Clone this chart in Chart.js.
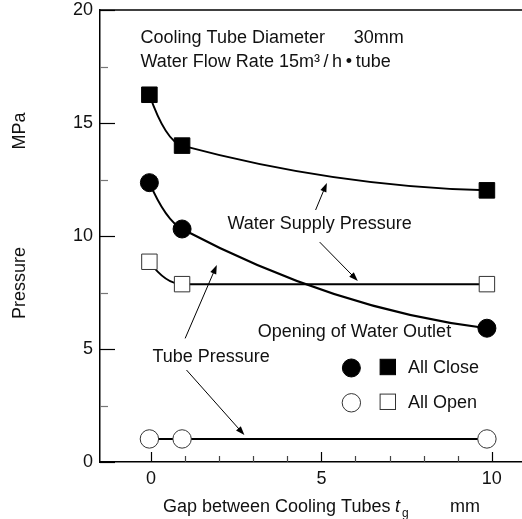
<!DOCTYPE html>
<html>
<head>
<meta charset="utf-8">
<script src="https://cdn.jsdelivr.net/npm/chart.js@4/dist/chart.umd.min.js"></script>
<style>
  html, body { margin: 0; padding: 0; background: #fff; }
  #wrap { width: 522px; height: 519px; position: relative; }
</style>
</head>
<body>
<div id="wrap"><canvas id="pressureChart"></canvas></div>
<script>
// ---- data ----
const gapValues = [-0.05, 0.91, 9.86];          // gap between cooling tubes, mm
const supplyClose = [16.25, 14.0, 12.02];       // water supply pressure, all close
const tubeClose = [12.36, 10.31, 5.92];         // tube pressure, all close
const supplyOpen = [8.86, 7.87, 7.87];          // water supply pressure, all open
const tubeOpen = [1.02, 1.02, 1.02];            // tube pressure, all open

const xTickValues = [0, 1, 2, 3, 4, 5, 6, 7, 8, 9, 10];
const xTickLabels = [0, 5, 10];
const yTickValues = [0, 2.5, 5, 7.5, 10, 12.5, 15, 17.5, 20];
const yTickLabels = [0, 5, 10, 15, 20];

const FONT = '"Liberation Sans", Arial, Helvetica, sans-serif';

const toPoints = (ys) => gapValues.map((x, i) => ({ x: x, y: ys[i] }));

// ---- annotations, in data units ----
const notes = [
  { text: "Cooling Tube Diameter", x: -0.31, y: 18.76 },
  { text: "30mm", x: 5.95, y: 18.76 },
  { text: "Water Flow Rate 15m³\u2009/\u2009h\u2009•\u2009tube", x: -0.31, y: 17.7 },
  { text: "Water Supply Pressure", x: 2.24, y: 10.53 },
  { text: "Tube Pressure", x: 0.04, y: 4.65 },
  { text: "Opening of Water Outlet", x: 3.13, y: 5.75 },
];
const arrows = [
  { from: [4.83, 11.15], to: [5.16, 12.35] },
  { from: [4.95, 9.73], to: [6.07, 8.01] },
  { from: [1.0, 5.47], to: [1.93, 8.72] },
  { from: [1.04, 4.07], to: [2.74, 1.19] },
];
const keyRows = [
  { label: "All Close", filled: true, y: 4.16 },
  { label: "All Open", filled: false, y: 2.62 },
];

function drawArrow(ctx, x1, y1, x2, y2) {
  const a = Math.atan2(y2 - y1, x2 - x1);
  const len = 9, half = 3.2;
  ctx.beginPath();
  ctx.moveTo(x1, y1);
  ctx.lineTo(x2 - Math.cos(a) * len * 0.8, y2 - Math.sin(a) * len * 0.8);
  ctx.stroke();
  ctx.beginPath();
  ctx.moveTo(x2, y2);
  ctx.lineTo(x2 - Math.cos(a) * len - Math.sin(a) * half, y2 - Math.sin(a) * len + Math.cos(a) * half);
  ctx.lineTo(x2 - Math.cos(a) * len + Math.sin(a) * half, y2 - Math.sin(a) * len - Math.cos(a) * half);
  ctx.closePath();
  ctx.fill();
}

function circleMark(ctx, x, y, filled) {
  ctx.beginPath();
  ctx.arc(x, y, filled ? 9 : 9.2, 0, Math.PI * 2);
  ctx.fillStyle = filled ? "#000" : "#fff";
  ctx.fill();
  ctx.lineWidth = 1;
  ctx.strokeStyle = filled ? "#000" : "#333";
  ctx.stroke();
}

function squareMark(ctx, x, y, filled) {
  ctx.fillStyle = filled ? "#000" : "#fff";
  ctx.fillRect(x - 7.7, y - 7.7, 15.4, 15.4);
  ctx.lineWidth = 1;
  ctx.strokeStyle = filled ? "#000" : "#333";
  ctx.strokeRect(x - 7.7, y - 7.7, 15.4, 15.4);
}

// smoother curve shape: harmonic-mean tangents inside, quadratic end tangents
const curvePlugin = {
  id: "smoothCurves",
  beforeDatasetDraw(chart, args) {
    const meta = args.meta;
    const line = meta.dataset;
    if (!line || !line.options.tension || typeof line.updateControlPoints !== "function") return;
    line.updateControlPoints(chart.chartArea);
    const pts = meta.data;
    const n = pts.length;
    if (n < 3) return;
    const sec = [];
    for (let i = 0; i < n - 1; i++) sec.push((pts[i + 1].y - pts[i].y) / (pts[i + 1].x - pts[i].x));
    const m = new Array(n).fill(0);
    for (let i = 1; i < n - 1; i++) {
      const a = sec[i - 1], b = sec[i];
      m[i] = a * b > 0 ? 2 / (1 / a + 1 / b) : 0;
    }
    m[0] = 2 * sec[0] - m[1];
    if (m[0] * sec[0] < 0) m[0] = 0;
    m[n - 1] = 2 * sec[n - 2] - m[n - 2];
    if (m[n - 1] * sec[n - 2] < 0) m[n - 1] = 0;
    for (let i = 0; i < n - 1; i++) {
      const h = (pts[i + 1].x - pts[i].x) / 3;
      pts[i].cp2x = pts[i].x + h;
      pts[i].cp2y = pts[i].y + m[i] * h;
      pts[i + 1].cp1x = pts[i + 1].x - h;
      pts[i + 1].cp1y = pts[i + 1].y - m[i + 1] * h;
    }
    line._path = undefined;
  },
};

// axes frame, inward ticks and titles
const framePlugin = {
  id: "frame",
  beforeDatasetsDraw(chart) {
    const { ctx, chartArea: a, scales } = chart;
    ctx.save();
    ctx.strokeStyle = "#000";
    ctx.lineWidth = 1.5;
    ctx.beginPath();
    ctx.moveTo(a.left, a.top);
    ctx.lineTo(a.right, a.top);
    ctx.stroke();

    scales.y.ticks.forEach((t) => {
      const py = Math.round(scales.y.getPixelForValue(t.value)) + 0.5;
      const major = yTickLabels.includes(t.value);
      ctx.strokeStyle = major ? "#000" : "#777";
      ctx.lineWidth = 1.2;
      ctx.beginPath();
      ctx.moveTo(a.left, py);
      ctx.lineTo(a.left + (major ? 15 : 8), py);
      ctx.stroke();
    });
    scales.x.ticks.forEach((t) => {
      const px = Math.round(scales.x.getPixelForValue(t.value)) + 0.5;
      const major = xTickLabels.includes(t.value);
      ctx.strokeStyle = major ? "#000" : "#444";
      ctx.lineWidth = 1.2;
      ctx.beginPath();
      ctx.moveTo(px, a.bottom);
      ctx.lineTo(px, a.bottom - (major ? 10 : 6));
      ctx.stroke();
    });

    // axis titles
    ctx.fillStyle = "#111";
    ctx.font = "18px " + FONT;
    ctx.textBaseline = "middle";
    ctx.textAlign = "left";
    ctx.fillText("Gap between Cooling Tubes", 163, 507);
    ctx.fillText("mm", 450, 507);
    ctx.font = "italic 18px " + FONT;
    ctx.fillText("t", 395, 507);
    ctx.font = "12px " + FONT;
    ctx.fillText("g", 402, 514);

    ctx.font = "18px " + FONT;
    ctx.textAlign = "center";
    [["MPa", 131], ["Pressure", 283]].forEach(([s, cy]) => {
      ctx.save();
      ctx.translate(20, cy);
      ctx.rotate(-Math.PI / 2);
      ctx.fillText(s, 0, 0);
      ctx.restore();
    });
    ctx.restore();
  },
  afterDatasetsDraw(chart) {
    const { ctx, scales } = chart;
    const X = (v) => scales.x.getPixelForValue(v);
    const Y = (v) => scales.y.getPixelForValue(v);
    ctx.save();
    ctx.fillStyle = "#111";
    ctx.font = "18px " + FONT;
    ctx.textBaseline = "middle";
    ctx.textAlign = "left";
    notes.forEach((n) => ctx.fillText(n.text, X(n.x), Y(n.y)));

    ctx.strokeStyle = "#000";
    ctx.fillStyle = "#000";
    ctx.lineWidth = 1;
    arrows.forEach((r) => drawArrow(ctx, X(r.from[0]), Y(r.from[1]), X(r.to[0]), Y(r.to[1])));

    keyRows.forEach((k) => {
      const cy = Y(k.y);
      circleMark(ctx, X(5.88), cy, k.filled);
      squareMark(ctx, X(6.95), cy - 1, k.filled);
      ctx.fillStyle = "#111";
      ctx.fillText(k.label, X(7.54), cy);
    });
    ctx.restore();
  },
};

const lineStyle = {
  borderColor: "#000",
  borderWidth: 2,
  showLine: true,
  tension: 0.4,
  pointBorderWidth: 1,
  pointHoverRadius: 0,
};

new Chart(document.getElementById("pressureChart"), {
  type: "scatter",
  data: {
    datasets: [
      {
        ...lineStyle,
        label: "Tube Pressure (All Open)",
        data: toPoints(tubeOpen),
        tension: 0,
        pointStyle: "circle",
        pointRadius: 9.2,
        pointBackgroundColor: "#fff",
        pointBorderColor: "#333",
      },
      {
        ...lineStyle,
        label: "Water Supply Pressure (All Open)",
        data: toPoints(supplyOpen),
        pointStyle: "rect",
        pointRadius: 10.9,
        pointBackgroundColor: "#fff",
        pointBorderColor: "#333",
      },
      {
        ...lineStyle,
        label: "Tube Pressure (All Close)",
        data: toPoints(tubeClose),
        pointStyle: "circle",
        pointRadius: 9,
        pointBackgroundColor: "#000",
        pointBorderColor: "#000",
      },
      {
        ...lineStyle,
        label: "Water Supply Pressure (All Close)",
        data: toPoints(supplyClose),
        pointStyle: "rect",
        pointRadius: 11,
        pointBackgroundColor: "#000",
        pointBorderColor: "#000",
      },
    ],
  },
  options: {
    responsive: true,
    maintainAspectRatio: false,
    animation: false,
    layout: { autoPadding: false, padding: { top: 10, right: 0, left: 0, bottom: 0 } },
    plugins: {
      legend: { display: false },
      tooltip: { enabled: false },
    },
    scales: {
      x: {
        type: "linear",
        min: -1.5,
        max: 10.89,
        afterBuildTicks: (s) => { s.ticks = xTickValues.map((v) => ({ value: v })); },
        afterFit: (s) => { s.height = 57; s.paddingLeft = 0; s.paddingRight = 0; },
        grid: { display: false, drawTicks: false },
        border: { display: true, color: "#000", width: 1.5 },
        ticks: {
          autoSkip: false,
          maxRotation: 0,
          padding: 6,
          color: "#111",
          font: { family: FONT, size: 18 },
          callback: (v) => (xTickLabels.includes(v) ? String(v) : ""),
        },
      },
      y: {
        type: "linear",
        min: 0,
        max: 20,
        afterBuildTicks: (s) => { s.ticks = yTickValues.map((v) => ({ value: v })); },
        afterFit: (s) => { s.width = 100; s.paddingTop = 0; s.paddingBottom = 0; },
        grid: { display: false, drawTicks: false },
        border: { display: true, color: "#000", width: 1.5 },
        ticks: {
          autoSkip: false,
          padding: 7,
          color: "#111",
          font: { family: FONT, size: 18 },
          callback: (v) => (yTickLabels.includes(v) ? String(v) : ""),
        },
      },
    },
  },
  plugins: [framePlugin, curvePlugin],
});
</script>
</body>
</html>
